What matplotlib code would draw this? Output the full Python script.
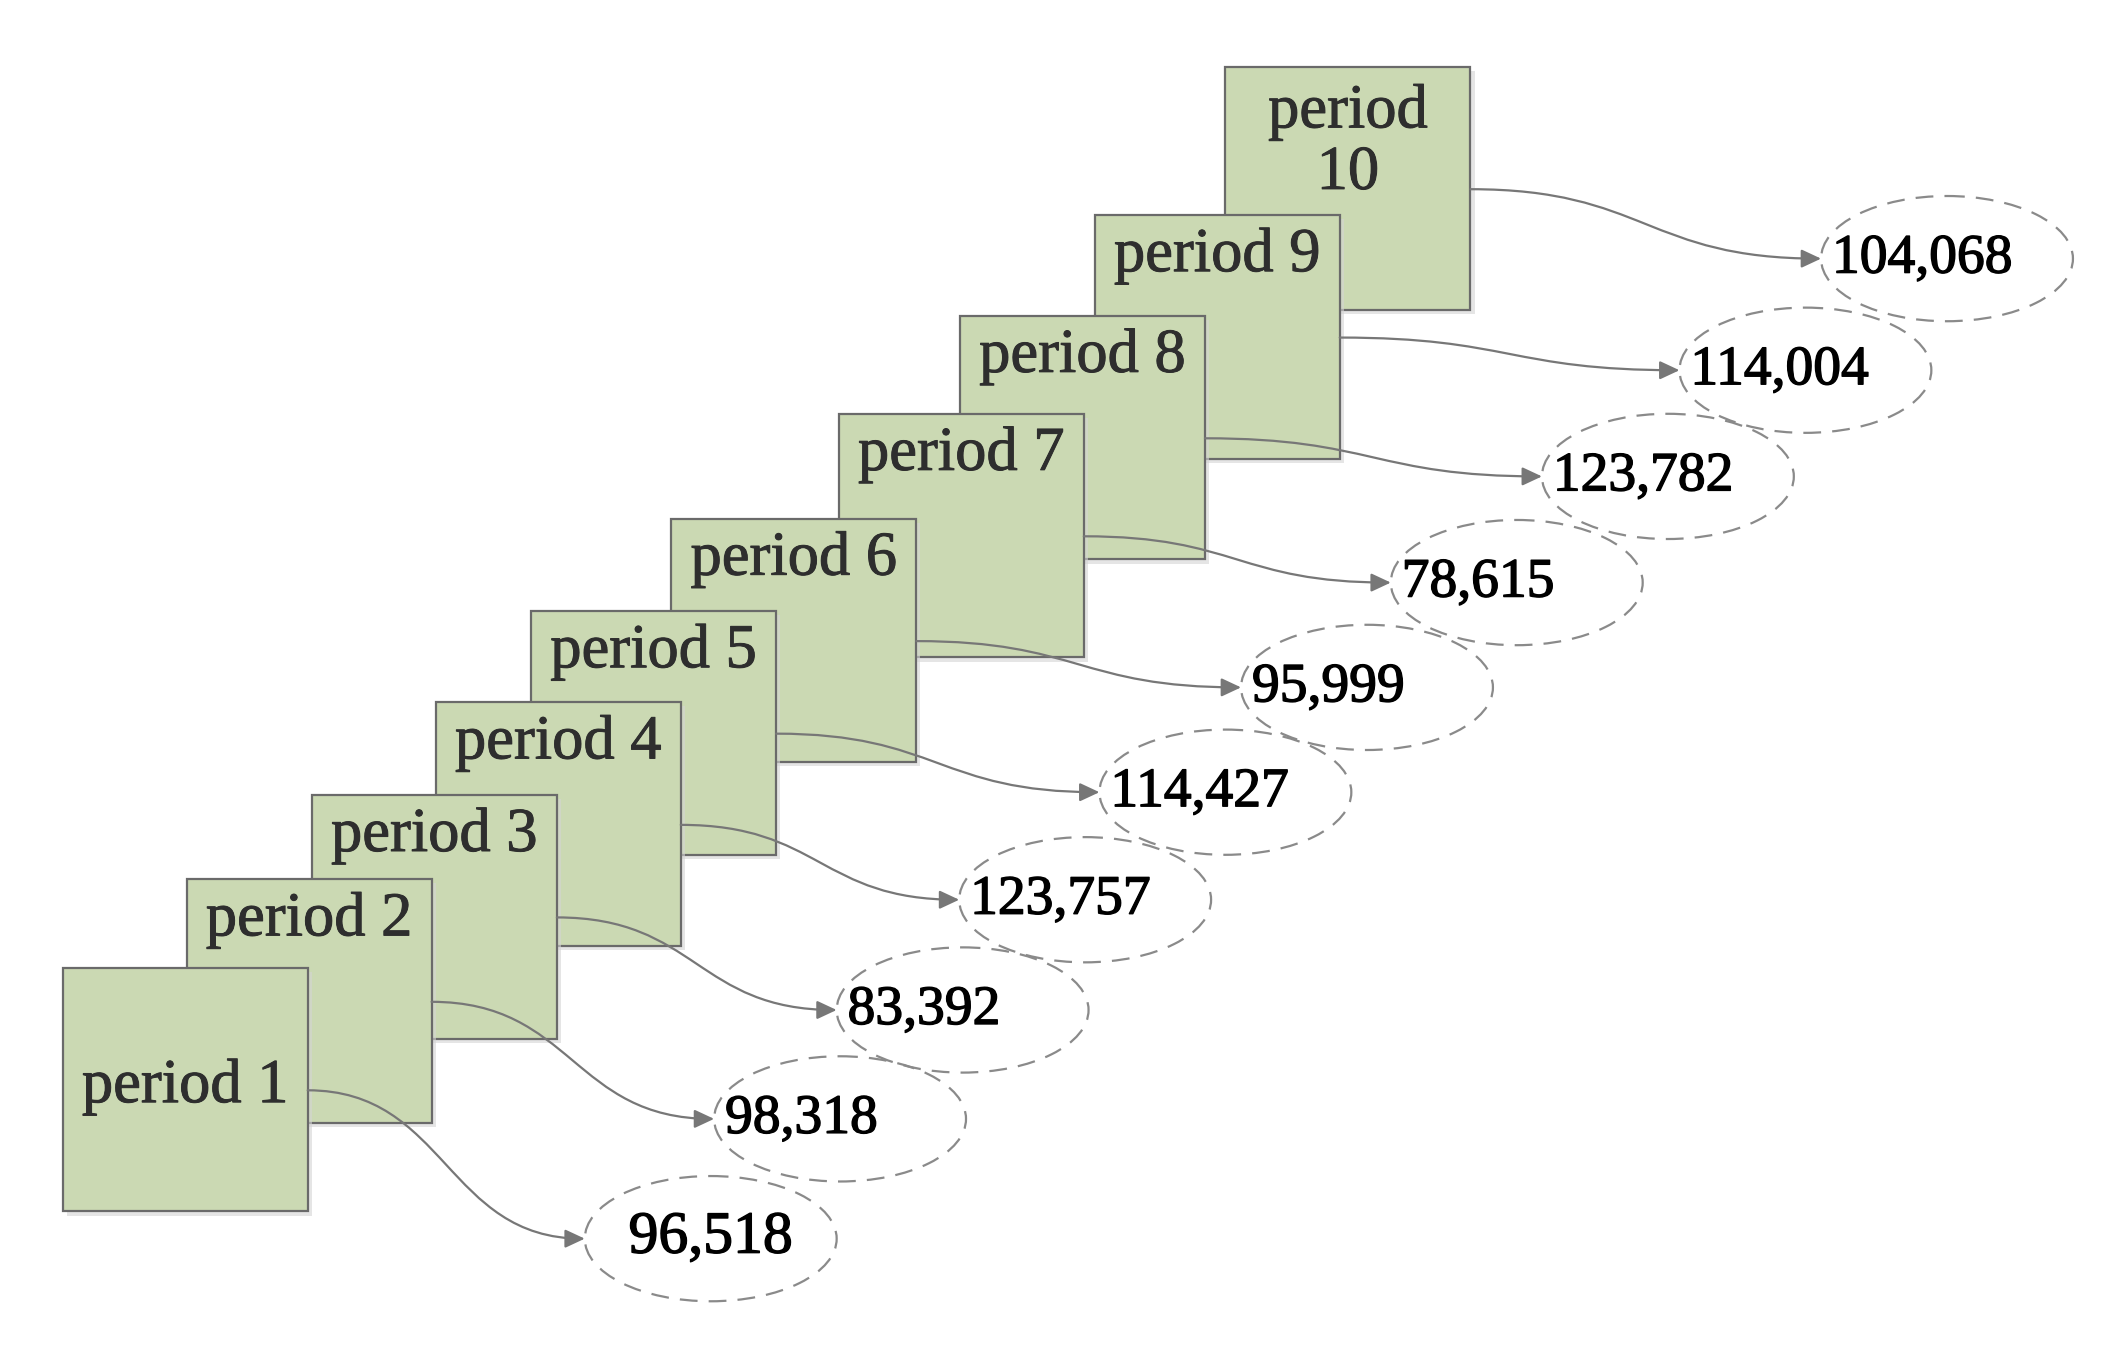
import matplotlib
matplotlib.use("Agg")
import matplotlib.pyplot as plt
import matplotlib.patheffects as pe
from matplotlib.patches import Rectangle, Ellipse, FancyArrowPatch
from matplotlib.path import Path

# ---- data ----
periods = ["period 1", "period 2", "period 3", "period 4", "period 5",
           "period 6", "period 7", "period 8", "period 9", "period\n10"]
values = [96518, 98318, 83392, 123757, 114427, 95999, 78615, 123782, 114004, 104068]

# ---- layout (reference pixel space, 1560 x 994) ----
box_left = [46, 137, 229, 320, 390, 493, 616, 705, 804, 900]
box_top = [711, 646, 584, 516, 449, 381, 304, 232, 158, 49]
box_w, box_h = 180, 179
ell_cx = [522, 617, 707, 797, 900, 1004, 1114, 1225, 1326, 1430]
ell_cy = [910, 822, 742, 661, 582, 505, 428, 350, 272, 190]
ell_w, ell_h = 185, 92

W, H = 1560, 994
fig = plt.figure(figsize=(21.24, 13.53), dpi=100)
ax = fig.add_axes([0, 0, 1, 1])
ax.set_xlim(0, W)
ax.set_ylim(H, 0)
ax.axis("off")

fill = "#cbd9b3"
edge = "#6a6a6a"
n = len(periods)

# boxes: draw period 10 at back, period 1 in front
for i in reversed(range(n)):
    x, y = box_left[i], box_top[i]
    ax.add_patch(Rectangle((x + 3, y + 3), box_w, box_h, facecolor="#d4d4d4",
                           edgecolor="none", zorder=2 + (n - i) * 2 - 1, alpha=0.6))
    ax.add_patch(Rectangle((x, y), box_w, box_h, facecolor=fill, edgecolor=edge,
                           lw=1.6, zorder=2 + (n - i) * 2))
    cx = x + box_w / 2
    if i == 0:
        ty = y + box_h / 2 - 2
    elif i == n - 1:
        ty = y + 56
    else:
        ty = y + 30
    t = ax.text(cx, ty, periods[i], ha="center", va="center", fontsize=45,
                family="Liberation Serif", color="#2e2e2e",
                linespacing=1.08, zorder=2 + (n - i) * 2 + 0.5)
    t.set_path_effects([pe.withStroke(linewidth=0.7, foreground="#2e2e2e")])

# ellipses and values
for i in range(n):
    ax.add_patch(Ellipse((ell_cx[i], ell_cy[i]), ell_w, ell_h, facecolor="none",
                         edgecolor="#8a8a8a", lw=1.6, linestyle=(0, (8, 5)),
                         zorder=40))
    label = f"{values[i]:,}"
    if i == 0:
        t = ax.text(ell_cx[i], ell_cy[i], label, ha="center", va="center",
                    fontsize=43, family="Liberation Serif", color="black", zorder=41)
    else:
        t = ax.text(ell_cx[i] - ell_w / 2 + 8, ell_cy[i], label, ha="left",
                    va="center", fontsize=40, family="Liberation Serif",
                    color="black", zorder=41)
    t.set_path_effects([pe.withStroke(linewidth=1.0, foreground="black")])

# connectors
for i in range(n):
    x0 = box_left[i] + box_w
    y0 = box_top[i] + 90
    x1 = ell_cx[i] - ell_w / 2
    y1 = ell_cy[i]
    dx = x1 - x0
    path = Path([(x0, y0), (x0 + 0.5 * dx, y0), (x1 - 0.5 * dx, y1), (x1, y1)],
                [Path.MOVETO, Path.CURVE4, Path.CURVE4, Path.CURVE4])
    arr = FancyArrowPatch(path=path, arrowstyle="-|>,head_length=0.6,head_width=0.28",
                          mutation_scale=20, color="#777777", lw=1.6, zorder=45)
    ax.add_patch(arr)

fig.savefig("out.png", dpi=100, facecolor="white")
